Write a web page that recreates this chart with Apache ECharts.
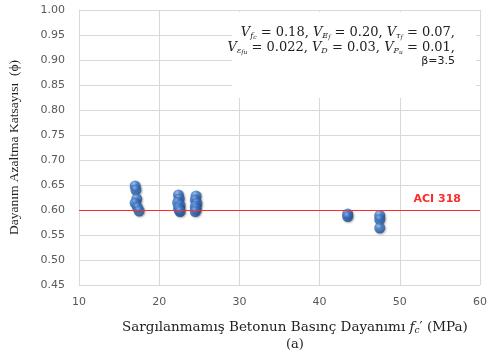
<!DOCTYPE html>
<html>
<head>
<meta charset="utf-8">
<script src="https://cdn.jsdelivr.net/npm/echarts@6/dist/echarts.min.js"></script>
<style>
  html, body { margin: 0; padding: 0; background: #fff; }
  #chart { width: 488px; height: 361px; }
</style>
</head>
<body>
<div id="chart"></div>
<script>
// Unconfined concrete strength f'c (MPa) for each simulated specimen
const fcValues = [
  17.0, 17.1, 17.2, 17.0, 17.3, 17.5,
  22.4, 22.5, 22.3, 22.6, 22.4, 22.5, 22.6,
  24.6, 24.5, 24.7, 24.5, 24.6, 24.5,
  43.5, 43.5,
  47.5, 47.5, 47.5
];
// Strength reduction factor phi for each specimen
const phiValues = [
  0.648, 0.640, 0.622, 0.614, 0.605, 0.598,
  0.630, 0.622, 0.615, 0.609, 0.604, 0.600, 0.597,
  0.628, 0.620, 0.613, 0.607, 0.602, 0.597,
  0.592, 0.587,
  0.589, 0.581, 0.564
];
const xTicks = [10, 20, 30, 40, 50, 60];
const yTicks = [0.45, 0.50, 0.55, 0.60, 0.65, 0.70, 0.75, 0.80, 0.85, 0.90, 0.95, 1.00];
const aciPhi = 0.60;

const points = fcValues.map((x, i) => [x, phiValues[i]]);

const serif = '"DejaVu Serif", "Liberation Serif", serif';
const narrowSerif = '"Liberation Serif", "DejaVu Serif", serif';
const sans = '"DejaVu Sans", sans-serif';
const gridColor = '#d9d9d9';
const tickColor = '#595959';
const ink = '#222222';

// Rich-text styles for variables with subscripts
const mathRich = {
  v: { fontFamily: serif, fontStyle: 'italic', fontSize: 13, lineHeight: 15, fill: ink },
  n: { fontFamily: serif, fontSize: 13, lineHeight: 15, fill: ink },
  s: { fontFamily: serif, fontStyle: 'italic', fontSize: 8, lineHeight: 8, verticalAlign: 'bottom', fill: ink },
  ss: { fontFamily: serif, fontStyle: 'italic', fontSize: 6, lineHeight: 5, verticalAlign: 'bottom', fill: ink },
  b: { fontFamily: sans, fontSize: 11, lineHeight: 15, fill: ink }
};
const paramLines = [
  '{v|V}{s|f}{ss|c}{n| = 0.18, }{v|V}{s|E}{ss|f}{n| = 0.20, }{v|V}{s|τ}{ss|f}{n| = 0.07,}',
  '{v|V}{s|ε}{ss|fu}{n| = 0.022, }{v|V}{s|D}{n| = 0.03, }{v|V}{s|P}{ss|u}{n| = 0.01,}',
  '{b|β=3.5}'
];

const chart = echarts.init(document.getElementById('chart'), null, { renderer: 'canvas' });

chart.setOption({
  animation: false,
  backgroundColor: '#ffffff',
  grid: { left: 79, right: 8, top: 10, bottom: 76, containLabel: false, outerBoundsMode: 'none' },
  xAxis: {
    type: 'value',
    min: xTicks[0],
    max: xTicks[xTicks.length - 1],
    interval: 10,
    axisLine: { show: false },
    axisTick: { show: false },
    splitLine: { show: true, lineStyle: { color: gridColor, width: 1 } },
    axisLabel: { color: tickColor, fontFamily: sans, fontSize: 11, margin: 12 }
  },
  yAxis: {
    type: 'value',
    min: yTicks[0],
    max: yTicks[yTicks.length - 1],
    interval: 0.05,
    axisLine: { show: true, lineStyle: { color: gridColor } },
    axisTick: { show: false },
    splitLine: { show: true, lineStyle: { color: gridColor, width: 1 } },
    axisLabel: {
      color: tickColor, fontFamily: sans, fontSize: 11, margin: 14,
      formatter: v => v.toFixed(2)
    },
    name: 'Dayanım Azaltma Katsayısı  (ϕ)',
    nameLocation: 'middle',
    nameRotate: 90,
    nameGap: 58,
    nameTextStyle: { color: ink, fontFamily: narrowSerif, fontSize: 13.5 }
  },
  series: [
    {
      type: 'scatter',
      data: points,
      symbol: 'circle',
      symbolSize: 11,
      itemStyle: {
        color: {
          type: 'radial', x: 0.38, y: 0.3, r: 0.75,
          colorStops: [
            { offset: 0, color: '#9cc0ee' },
            { offset: 0.35, color: '#3f7acb' },
            { offset: 0.8, color: '#25569f' },
            { offset: 1, color: '#1a3f78' }
          ]
        },
        shadowBlur: 2,
        shadowColor: 'rgba(0,0,0,0.35)',
        shadowOffsetX: 1,
        shadowOffsetY: 1
      },
      markLine: {
        silent: true,
        symbol: ['none', 'none'],
        lineStyle: { color: '#ff2a2a', width: 1, type: 'solid' },
        label: {
          show: true,
          position: 'insideEndTop',
          formatter: 'ACI 318',
          color: '#ff2a2a',
          fontFamily: sans,
          fontWeight: 'bold',
          fontSize: 11,
          distance: [19, 5]
        },
        data: [{ yAxis: aciPhi }]
      }
    }
  ],
  graphic: [
    {
      type: 'rect',
      left: 232, top: 12,
      shape: { width: 244, height: 86 },
      style: { fill: '#ffffff' },
      z: 10
    }
  ].concat(paramLines.map((line, i) => ({
    type: 'text',
    right: 33, top: 26 + i * 15,
    z: 11,
    style: { text: line, rich: mathRich }
  }))).concat([
    {
      type: 'text',
      left: 122, top: 320,
      style: {
        text: '{n|Sargılanmamış Betonun Basınç Dayanımı }{v|f}{s|c}{n|′ (MPa)}',
        rich: {
          n: { fontFamily: serif, fontSize: 13.5, lineHeight: 17, fill: ink },
          v: { fontFamily: serif, fontStyle: 'italic', fontSize: 13.5, lineHeight: 17, fill: ink },
          s: { fontFamily: serif, fontStyle: 'italic', fontSize: 9, lineHeight: 10, verticalAlign: 'bottom', fill: ink }
        }
      }
    },
    {
      type: 'text',
      left: 286, top: 338,
      style: { text: '(a)', fontFamily: serif, fontSize: 13, fill: ink }
    }
  ])
});
</script>
</body>
</html>
